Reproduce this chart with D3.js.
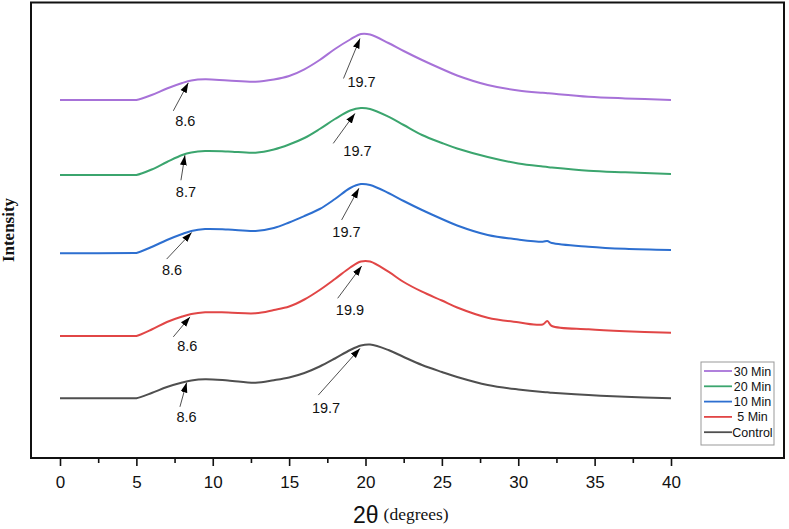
<!DOCTYPE html>
<html><head><meta charset="utf-8">
<script src="https://cdn.jsdelivr.net/npm/d3@7"></script>
<style>body{margin:0;background:#fff}svg{display:block}</style>
</head><body>
<svg id="c" width="789" height="529"></svg>
<script>
// 2θ (degrees) sample positions
const twoTheta = [0,4.9,5,6,7,8,8.6,9.5,11,12.8,14,15,16,17,18,19,19.7,20.3,21.5,22.5,23.7,25,26,28,30,31.6,31.9,32.2,34.6,37,40];
// Intensities (a.u., stacked with offsets as in the figure)
const min30   = [358,358,358,363,369.5,375,377.5,378.7,377.5,376.3,378.5,382,388.7,398,409,418.5,424,423.5,415,407,398,389,382.5,373,367.5,365.2,364.8,364.4,361.3,359.6,358];
const min20   = [283,283,283,288.5,296,303,305.5,307,306.5,305.3,308.5,313.5,320,329,339,347.5,350,349,341.3,333,323,315,309.5,301,294.5,291.5,291,290.5,287.3,285.7,284];
const min10   = [204.7,205,205,211,218,224,227,229,228.5,227,230,235.5,242,249,259,270,274,273,265,257,248,239,232.5,223,218.5,216.3,217,215,211.3,209.2,208];
const min5    = [122,122,122,128.5,136,141.5,144,145.7,145.5,144.7,148,151.5,158.5,168,179,190.5,196.5,196.5,186.3,176,166.3,157.5,150.5,140.3,135.7,133.5,137,132,128.7,126.8,125.3];
const control = [59.7,59.7,59.7,65,71,75.5,77.5,78.7,77.5,75.3,77.8,80.5,85,91.5,99.5,108,112.5,113.5,108,101,93,86,81,73,68.5,66,65.7,65.3,63,61.2,59.7];
const seriesNames = ["30 Min","20 Min","10 Min","5 Min","Control"];
const seriesColors = ["#a772d8","#3ba56e","#2d6fd0","#e14646","#4f4f4f"];
const majorTicks = [0,5,10,15,20,25,30,35,40];
const minorTicks = [2.5,7.5,12.5,17.5,22.5,27.5,32.5,37.5];
// peak annotations: series index, label
const peakSeries = [0,0,1,1,2,2,3,3,4,4];
const peakLabels = ["8.6","19.7","8.7","19.7","8.6","19.7","8.6","19.9","8.6","19.7"];
const peakAt     = [8.4,19.64,8.18,19.31,8.62,19.57,8.51,19.75,8.29,19.64];

const allSeries = [min30,min20,min10,min5,control];

// ---- layout (not data) ----
const L = 31, R = 784, T = 2.5, B = 458;
const svg = d3.select("#c");
const x = d3.scaleLinear().domain([(L-60)/15.275, (R-60)/15.275]).range([L,R]);
const y = d3.scaleLinear().domain([0, B-T]).range([B,T]);

svg.append("defs").append("marker")
  .attr("id","arr").attr("viewBox","0 0 10 10").attr("refX",10).attr("refY",5)
  .attr("markerWidth",10).attr("markerHeight",10).attr("markerUnits","userSpaceOnUse")
  .attr("orient","auto")
  .append("path").attr("d","M0,1.6 L10,5 L0,8.4 Z").attr("fill","#000");

// curves
const line = d3.line().x((d,i)=>x(twoTheta[i])).y(d=>y(d)).curve(d3.curveCatmullRom.alpha(0.5));
allSeries.forEach((s,k)=>{
  svg.append("path").attr("d",line(s)).attr("fill","none")
    .attr("stroke",seriesColors[k]).attr("stroke-width",2).attr("stroke-linejoin","round");
});

// annotations
const offs = [
  {tip:1.5, tx:-15, ty:28, lx:-3, ly:37.6},
  {tip:4, tx:-16.5, ty:40, lx:1.5, ly:43},
  {tip:1, tx:-4, ty:25, lx:1, ly:36.7},
  {tip:4, tx:-21.7, ty:30, lx:2.5, ly:37.2},
  {tip:1.5, tx:-25, ty:26.6, lx:-19.7, ly:37.6},
  {tip:3.5, tx:-17.3, ty:31.7, lx:-12.5, ly:43.4},
  {tip:2.5, tx:-16.7, ty:20, lx:-2.7, ly:29.3},
  {tip:4.5, tx:-24, ty:32.3, lx:-11.7, ly:43.3},
  {tip:1, tx:-6.7, ty:24.3, lx:0, ly:34.3},
  {tip:2.5, tx:-41.7, ty:46.7, lx:-34, ly:59.4}
];
function valAt(s, xv){
  const i = d3.bisectRight(twoTheta, xv) - 1;
  const t = (xv - twoTheta[i])/(twoTheta[i+1]-twoTheta[i]);
  return s[i] + t*(s[i+1]-s[i]);
}
peakAt.forEach((xv,j)=>{
  const s = allSeries[peakSeries[j]];
  const o = offs[j];
  const px = x(xv), py = y(valAt(s,xv)) + o.tip;
  svg.append("line").attr("x1",px+o.tx).attr("y1",py+o.ty).attr("x2",px).attr("y2",py)
    .attr("stroke","#222").attr("stroke-width",0.8).attr("marker-end","url(#arr)");
  svg.append("text").attr("x",px+o.lx).attr("y",py+o.ly).attr("dy","0.36em")
    .attr("text-anchor","middle").attr("font-family","Liberation Sans, Arial, sans-serif")
    .attr("font-size",14.5).attr("fill","#111").text(peakLabels[j]);
});

// frame
svg.append("rect").attr("x",L).attr("y",T).attr("width",R-L).attr("height",B-T)
  .attr("fill","none").attr("stroke","#111").attr("stroke-width",2);

// x axis
const ax = svg.append("g").attr("transform",`translate(0,${B+1})`)
  .call(d3.axisBottom(x).tickValues(majorTicks).tickSize(7).tickSizeOuter(0).tickPadding(10).tickFormat(d3.format("d")));
ax.select(".domain").remove();
ax.selectAll("line").attr("stroke","#111").attr("stroke-width",1.6);
ax.selectAll("text").attr("font-family","Liberation Sans, Arial, sans-serif").attr("font-size",17).attr("fill","#111");
const axm = svg.append("g").attr("transform",`translate(0,${B+1})`)
  .call(d3.axisBottom(x).tickValues(minorTicks).tickSize(4).tickSizeOuter(0).tickFormat(""));
axm.select(".domain").remove();
axm.selectAll("line").attr("stroke","#111").attr("stroke-width",1.6);

// axis titles
const xt = svg.append("text").attr("x",353).attr("y",523).attr("fill","#111");
xt.append("tspan").attr("font-family","Liberation Sans, Arial, sans-serif").attr("font-size",23).text("2θ");
xt.append("tspan").attr("font-family","Liberation Serif, Times New Roman, serif").attr("font-size",17.5).attr("dx",5).attr("dy",-3).text("(degrees)");
svg.append("text").attr("transform","translate(14,230) rotate(-90)").attr("text-anchor","middle")
  .attr("font-family","Liberation Serif, Times New Roman, serif").attr("font-weight","bold")
  .attr("font-size",17).attr("fill","#111").text("Intensity");

// legend
const lg = svg.append("g");
lg.append("rect").attr("x",701).attr("y",362).attr("width",73).attr("height",83)
  .attr("fill","#fff").attr("stroke","#999").attr("stroke-width",1);
seriesNames.forEach((n,k)=>{
  const yy = 371 + k*15.3;
  lg.append("line").attr("x1",704).attr("x2",732).attr("y1",yy).attr("y2",yy)
    .attr("stroke",seriesColors[k]).attr("stroke-width",1.8);
  lg.append("text").attr("x",752.5).attr("y",yy).attr("dy","0.36em").attr("text-anchor","middle")
    .attr("font-family","Liberation Sans, Arial, sans-serif").attr("font-size",12.5).attr("fill","#111").text(n);
});
</script>
</body></html>
